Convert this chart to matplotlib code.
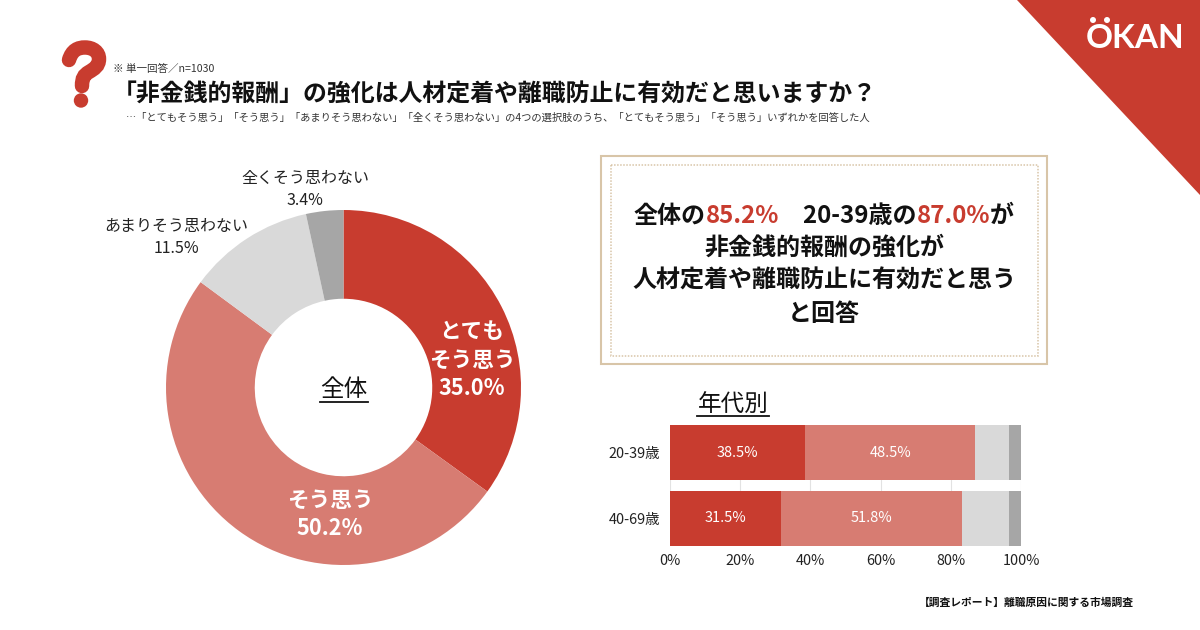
import matplotlib
matplotlib.use("Agg")
import matplotlib.pyplot as plt
from matplotlib.patches import Rectangle, Polygon, Circle, PathPatch
from matplotlib.path import Path

plt.rcParams['font.family'] = ['Noto Sans CJK JP', 'DejaVu Sans']

# 全体
donut_labels = ["とても\nそう思う", "そう思う", "あまりそう思わない", "全くそう思わない"]
donut_values = [35.0, 50.2, 11.5, 3.4]

# 年代別
age_labels = ["20-39歳", "40-69歳"]
very_agree = [38.5, 31.5]
agree = [48.5, 51.8]
not_much = [9.6, 13.4]
not_at_all = [3.4, 3.3]
x_ticks = [0, 20, 40, 60, 80, 100]

RED = "#C83C2F"
SALMON = "#D77C72"
LIGHT = "#D9D9D9"
GRAY = "#A6A6A6"
TAN = "#D8C5A8"
INK = "#111111"
colors = [RED, SALMON, LIGHT, GRAY]

W, H = 1200, 630
fig = plt.figure(figsize=(12, 6.3), dpi=100, facecolor="white")


def px_axes(left, top, right, bottom, **kw):
    return fig.add_axes([left / W, 1 - bottom / H, (right - left) / W, (bottom - top) / H], **kw)


# 背景の装飾とテキスト用 (ピクセル座標)
bg = fig.add_axes([0, 0, 1, 1], zorder=2)
bg.set_xlim(0, W)
bg.set_ylim(H, 0)
bg.axis("off")
bg.patch.set_alpha(0)
bg.add_patch(Polygon([(1017, 0), (1200, 0), (1200, 195)], color=RED, lw=0))

# ロゴ
bg.text(1135.5, 38, "OKAN", color="white", fontsize=24, fontweight="bold", family="Lato",
        ha="center", va="center")
bg.add_patch(Circle((1093, 20), 3, color="white", lw=0))
bg.add_patch(Circle((1107, 20), 3, color="white", lw=0))

# はてなマーク
q_path = Path([(69, 60), (72, 50), (78, 47.5), (85, 47.5), (93, 47.5), (99, 52), (99, 59),
               (99, 66), (94, 69), (89, 72), (84, 75), (82, 78), (82, 86)],
              [Path.MOVETO] + [Path.CURVE4] * 12)
bg.add_patch(PathPatch(q_path, fill=False, ec=RED, lw=10.4, capstyle="round"))
bg.add_patch(Circle((81, 100.5), 7.2, color=RED, lw=0))

bg.text(113, 69, "※ 単一回答／n=1030", fontsize=7.6, color="#333333", va="center")
bg.text(113, 94.5, "「非金銭的報酬」の強化は人材定着や離職防止に有効だと思いますか？",
        fontsize=17.22, fontweight="bold", color=INK, va="center")
bg.text(126, 118, "…「とてもそう思う」「そう思う」「あまりそう思わない」「全くそう思わない」の4つの選択肢のうち、「とてもそう思う」「そう思う」いずれかを回答した人",
        fontsize=7.42, color="#333333", va="center")
bg.text(1134, 603, "【調査レポート】離職原因に関する市場調査", fontsize=7.75, fontweight="bold",
        color=INK, ha="right", va="center")

# 右上の枠
bg.add_patch(Rectangle((600.5, 155.5), 446, 208, fill=False, ec=TAN, lw=1.5))
bg.add_patch(Rectangle((610.5, 164.5), 427, 191, fill=False, ec=TAN, lw=1.1, ls=(0, (1, 1))))


def colored_line(y, runs, size=17.3):
    # 色違いの文字列を並べて中央揃え
    rend = fig.canvas.get_renderer()
    items = [bg.text(0, y, s, color=c, fontsize=size, fontweight="bold", va="center") for s, c in runs]
    widths = [t.get_window_extent(rend).width for t in items]
    x = 824 - sum(widths) / 2
    for t, w in zip(items, widths):
        t.set_x(x)
        x += w


colored_line(216, [("全体の", INK), ("85.2%", RED), ("　20-39歳の", INK), ("87.0%", RED), ("が", INK)])
colored_line(248, [("非金銭的報酬の強化が", INK)])
colored_line(281, [("人材定着や離職防止に有効だと思う", INK)])
colored_line(314, [("と回答", INK)])

# ドーナツ
ax = px_axes(166, 210, 521, 565, zorder=1)
ax.pie(donut_values, colors=colors, startangle=90, counterclock=False, radius=1,
       wedgeprops=dict(width=0.5, lw=0), normalize=True)
ax.set_xlim(-1, 1)
ax.set_ylim(-1, 1)

bg.text(472, 360, donut_labels[0] + "\n%.1f%%" % donut_values[0], color="white", fontsize=15.6,
        fontweight="bold", ha="center", va="center", linespacing=1.32)
bg.text(330, 514.5, donut_labels[1] + "\n%.1f%%" % donut_values[1], color="white", fontsize=15.6,
        fontweight="bold", ha="center", va="center", linespacing=1.32)
bg.text(176.5, 237, donut_labels[2] + "\n%.1f%%" % donut_values[2], color="#222222", fontsize=11.5,
        ha="center", va="center", linespacing=1.39)
bg.text(305, 189, donut_labels[3] + "\n%.1f%%" % donut_values[3], color="#222222", fontsize=11.5,
        ha="center", va="center", linespacing=1.39)
bg.text(344, 389, "全体", color=INK, fontsize=17, ha="center", va="center")
bg.plot([320, 368], [402, 402], color=INK, lw=1.3)
bg.text(733, 405, "年代別", color=INK, fontsize=17, ha="center", va="center")
bg.plot([697, 769], [416, 416], color=INK, lw=1.3)

# 年代別の積み上げ棒
bar_ax = px_axes(670, 425, 1021, 546, zorder=1)
pos = list(range(len(age_labels)))
left = [0.0] * len(age_labels)
for vals, c in zip([very_agree, agree, not_much, not_at_all], colors):
    bars = bar_ax.barh(pos, vals, left=left, height=0.833, color=c, lw=0, zorder=2)
    if c in (RED, SALMON):
        bar_ax.bar_label(bars, labels=["%.1f%%" % v for v in vals], label_type="center",
                         color="white", fontsize=10.5)
    left = [a + b for a, b in zip(left, vals)]
bar_ax.set_xlim(0, 100)
bar_ax.set_ylim(1.417, -0.417)
bar_ax.set_yticks(pos, age_labels)
bar_ax.set_xticks(x_ticks, ["%d%%" % t for t in x_ticks])
bar_ax.tick_params(length=0, labelsize=10.4, labelcolor="#222222")
bar_ax.tick_params(axis="x", pad=6)
bar_ax.tick_params(axis="y", pad=7)
bar_ax.grid(axis="x", color="#E2E2E2", lw=0.8, zorder=1)
for s in ["top", "right", "bottom", "left"]:
    bar_ax.spines[s].set_visible(False)

fig.savefig("out.png", dpi=100)
